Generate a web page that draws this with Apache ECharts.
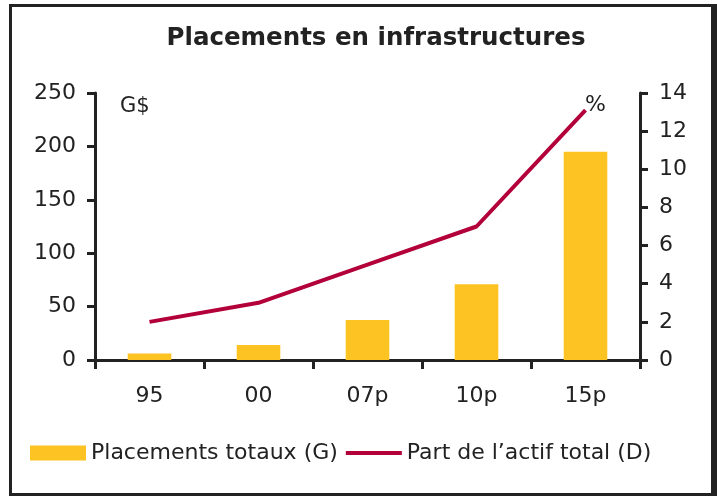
<!DOCTYPE html>
<html>
<head>
<meta charset="utf-8">
<script src="https://cdn.jsdelivr.net/npm/echarts@6/dist/echarts.min.js"></script>
<style>
  html, body { margin: 0; padding: 0; background: #fff; }
  #frame { position: absolute; left: 9px; top: 4px; width: 699px; height: 486px;
           border: 3px solid #222; border-right-width: 6px; box-sizing: content-box; }
  #chart { position: absolute; left: 0; top: 0; width: 717px; height: 496px; }
</style>
</head>
<body>
<div id="frame"></div>
<div id="chart"></div>
<script>
  var categories = ['95', '00', '07p', '10p', '15p'];
  var placements = [6, 14, 37.5, 71, 195];
  var partActif = [2, 3, 5, 7, 13.1];
  var leftTicks = { min: 0, max: 250, interval: 50 };
  var rightTicks = { min: 0, max: 14, interval: 2 };

  var font = 'DejaVu Sans';
  var ink = '#222';
  var chart = echarts.init(document.getElementById('chart'));

  var option = {
    animation: false,
    title: {
      text: 'Placements en infrastructures',
      left: 371,
      top: 21,
      textAlign: 'center',
      textStyle: { fontFamily: font, fontSize: 24.5, fontWeight: 'bold', color: ink }
    },
    legend: {
      left: 30,
      top: 442,
      padding: 0,
      itemWidth: 56,
      itemHeight: 15,
      itemGap: 8,
      textStyle: { fontFamily: font, fontSize: 22, color: ink },
      data: [
        { name: 'Placements totaux (G)', icon: 'rect' },
        { name: 'Part de l\u2019actif total (D)', icon: 'path://M0,0H62V4.4H0Z' }
      ]
    },
    grid: { left: 95, right: 77, top: 93, bottom: 136 },
    xAxis: {
      type: 'category',
      data: categories,
      axisLine: { lineStyle: { color: ink, width: 3 } },
      axisTick: { show: true, length: 9, lineStyle: { color: ink, width: 3 } },
      axisLabel: { margin: 25, fontFamily: font, fontSize: 22, color: ink }
    },
    yAxis: [{
      type: 'value',
      min: leftTicks.min, max: leftTicks.max, interval: leftTicks.interval,
      axisLine: { show: true, lineStyle: { color: ink, width: 3 } },
      axisTick: { show: true, length: 8, lineStyle: { color: ink, width: 3 } },
      axisLabel: { margin: 19, fontFamily: font, fontSize: 22, color: ink },
      splitLine: { show: false }
    }, {
      type: 'value',
      min: rightTicks.min, max: rightTicks.max, interval: rightTicks.interval,
      axisLine: { show: true, lineStyle: { color: ink, width: 3 } },
      axisTick: { show: true, length: 8, lineStyle: { color: ink, width: 3 } },
      axisLabel: { margin: 19, fontFamily: font, fontSize: 22, color: ink },
      splitLine: { show: false }
    }],
    graphic: [
      { type: 'text', left: 120, top: 96, style: { text: 'G$', font: '21px "DejaVu Sans"', fill: ink } },
      { type: 'text', left: 585, top: 94, style: { text: '%', font: '22px "DejaVu Sans"', fill: ink } }
    ],
    series: [{
      name: 'Placements totaux (G)',
      type: 'bar',
      data: placements,
      barWidth: '40%',
      itemStyle: { color: '#fdc323' }
    }, {
      name: 'Part de l\u2019actif total (D)',
      type: 'line',
      yAxisIndex: 1,
      data: partActif,
      symbol: 'none',
      lineStyle: { color: '#b3003b', width: 4 },
      itemStyle: { color: '#b3003b' }
    }]
  };

  chart.setOption(option);
</script>
</body>
</html>
